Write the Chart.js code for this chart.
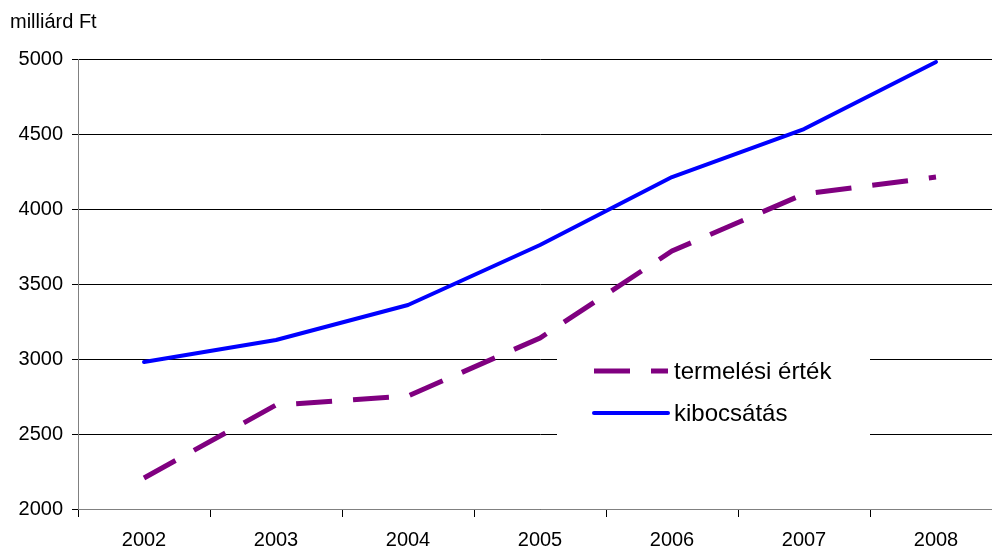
<!DOCTYPE html>
<html>
<head>
<meta charset="utf-8">
<script src="https://cdn.jsdelivr.net/npm/chart.js@4/dist/chart.umd.min.js"></script>
<style>
  html, body { margin: 0; padding: 0; background: #fff; overflow: hidden; }
  #wrap { position: relative; width: 1004px; height: 549px; }
</style>
</head>
<body>
<div id="wrap"><canvas id="c"></canvas></div>
<script>
// Years on the horizontal axis
const years = ['2002', '2003', '2004', '2005', '2006', '2007', '2008'];
// Production value and output, billion HUF
const termelesiErtek = [2207, 2693, 2753, 3140, 3720, 4100, 4213];
const kibocsatas = [2980, 3127, 3360, 3760, 4213, 4533, 4980];
const seriesNames = ['termelési érték', 'kibocsátás'];
const unitLabel = 'milliárd Ft';

const FONT = '"Liberation Sans", Arial, sans-serif';
const PURPLE = '#800080';
const BLUE = '#0000FF';

// Unit caption above the value axis
const unitCaption = {
  id: 'unitCaption',
  afterDraw(chart) {
    const ctx = chart.ctx;
    ctx.save();
    ctx.font = '20px ' + FONT;
    ctx.fillStyle = '#000';
    ctx.textBaseline = 'middle';
    ctx.textAlign = 'left';
    ctx.fillText(unitLabel, 10, 22);
    ctx.restore();
  }
};

// Legend panel inside the plot: a white box hiding the grid, then samples and names
const insetLegend = {
  id: 'insetLegend',
  beforeDatasetsDraw(chart) {
    const ctx = chart.ctx;
    ctx.save();
    ctx.fillStyle = '#fff';
    ctx.fillRect(557, 343, 313, 103);
    ctx.restore();
  },
  afterDatasetsDraw(chart) {
    const ctx = chart.ctx;
    const items = chart.data.datasets;
    const rows = [371, 413];
    ctx.save();
    items.forEach((ds, i) => {
      const y = rows[i];
      ctx.beginPath();
      ctx.strokeStyle = ds.borderColor;
      ctx.lineWidth = ds.borderWidth;
      ctx.lineCap = i === 0 ? 'butt' : 'round';
      ctx.setLineDash(ds.borderDash || []);
      ctx.moveTo(594, y);
      ctx.lineTo(668, y);
      ctx.stroke();
      ctx.setLineDash([]);
      ctx.font = '24px ' + FONT;
      ctx.fillStyle = '#000';
      ctx.textBaseline = 'middle';
      ctx.textAlign = 'left';
      ctx.fillText(ds.label, 674, y + 1);
    });
    ctx.restore();
  }
};

new Chart(document.getElementById('c'), {
  type: 'line',
  data: {
    labels: years,
    datasets: [
      {
        label: seriesNames[0],
        data: termelesiErtek,
        borderColor: PURPLE,
        backgroundColor: PURPLE,
        borderWidth: 5,
        borderDash: [36, 21],
        borderCapStyle: 'butt',
        pointRadius: 0,
        tension: 0,
        fill: false
      },
      {
        label: seriesNames[1],
        data: kibocsatas,
        borderColor: BLUE,
        backgroundColor: BLUE,
        borderWidth: 4,
        borderCapStyle: 'round',
        borderJoinStyle: 'round',
        pointRadius: 0,
        tension: 0,
        fill: false
      }
    ]
  },
  options: {
    responsive: true,
    maintainAspectRatio: false,
    animation: false,
    devicePixelRatio: 1,
    layout: { padding: { top: 59, left: 0, right: 2, bottom: 0 } },
    plugins: {
      legend: { display: false },
      tooltip: { enabled: false }
    },
    scales: {
      x: {
        type: 'category',
        offset: true,
        afterFit(s) { s.height = 40; },
        grid: {
          offset: true,
          drawOnChartArea: false,
          drawTicks: true,
          tickLength: 8,
          color: '#000'
        },
        border: { color: '#808080', width: 1 },
        ticks: {
          color: '#000',
          font: { family: FONT, size: 20 },
          padding: 11,
          maxRotation: 0
        }
      },
      y: {
        min: 2000,
        max: 5000,
        afterFit(s) { s.width = 78; },
        grid: {
          color: '#000',
          lineWidth: 1,
          drawTicks: true,
          tickLength: 6
        },
        border: { color: '#808080', width: 1 },
        ticks: {
          stepSize: 500,
          color: '#000',
          font: { family: FONT, size: 20 },
          padding: 9,
          callback: (v) => String(v)
        }
      }
    }
  },
  plugins: [unitCaption, insetLegend]
});
</script>
</body>
</html>
